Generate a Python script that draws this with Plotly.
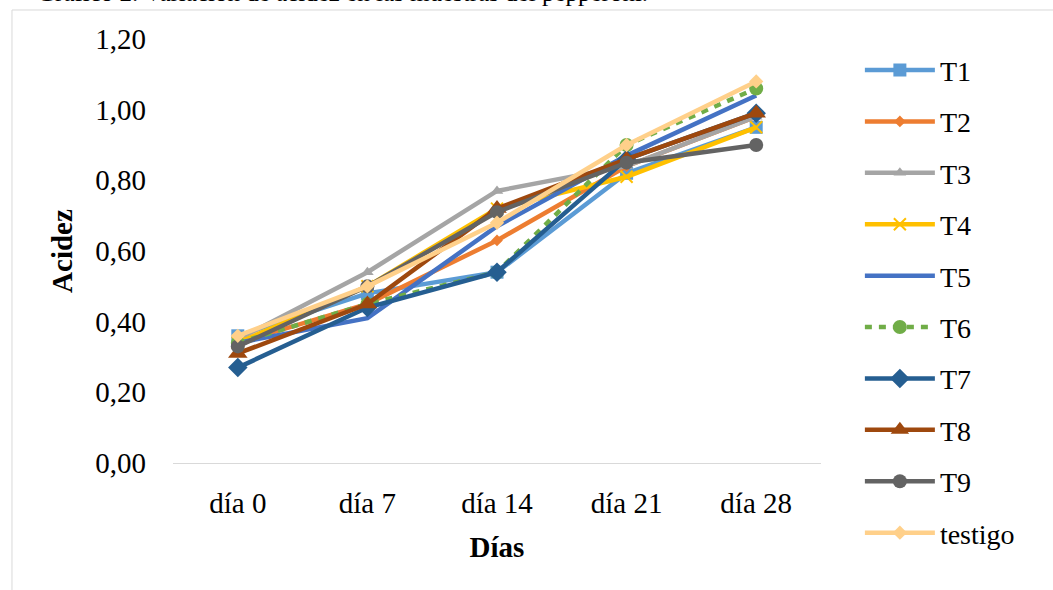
import plotly.graph_objects as go

dias = ["día 0", "día 7", "día 14", "día 21", "día 28"]
series_names = ["T1", "T2", "T3", "T4", "T5", "T6", "T7", "T8", "T9", "testigo"]
T1 = [0.36, 0.48, 0.54, 0.82, 0.95]
T2 = [0.34, 0.45, 0.63, 0.84, 0.98]
T3 = [0.35, 0.54, 0.77, 0.84, 0.98]
T4 = [0.34, 0.50, 0.72, 0.81, 0.95]
T5 = [0.34, 0.41, 0.67, 0.87, 1.04]
T6 = [0.34, 0.45, 0.54, 0.90, 1.06]
T7 = [0.27, 0.44, 0.54, 0.86, 0.99]
T8 = [0.31, 0.45, 0.72, 0.86, 0.99]
T9 = [0.33, 0.50, 0.71, 0.85, 0.90]
testigo = [0.36, 0.50, 0.68, 0.90, 1.08]
values = [T1, T2, T3, T4, T5, T6, T7, T8, T9, testigo]

colors = ["#5B9BD5", "#ED7D31", "#A5A5A5", "#FFC000", "#4472C4",
          "#70AD47", "#255E91", "#9E480E", "#636363", "#FFD08A"]
symbols = ["square", "diamond", "triangle-up", "x-thin", None,
           "circle", "diamond", "triangle-up", "circle", "diamond"]
msizes = [13, 9, 11, 12, 0, 14, 15, 17, 14, 11]

FONT = "Liberation Serif"
FS = 29

fig = go.Figure()
for name, vals, col, sym, ms in zip(series_names, values, colors, symbols, msizes):
    line = dict(color=col, width=4.5)
    if name == "T6":
        line["dash"] = "7px,7px"
    if sym is None:
        fig.add_trace(go.Scatter(x=dias, y=vals, name=name, mode="lines", line=line,
                                 legendgroup=name))
    else:
        marker = dict(symbol=sym, size=ms, color=col)
        if sym == "x-thin":
            marker["line"] = dict(color=col, width=2)
        fig.add_trace(go.Scatter(x=dias, y=vals, name=name, mode="lines+markers",
                                 line=line, marker=marker, legendgroup=name))

fig.update_layout(
    width=1053, height=590,
    margin=dict(l=173, r=232, t=39, b=127),
    paper_bgcolor="white", plot_bgcolor="white",
    separators=",.",
    font=dict(family=FONT, size=FS, color="black"),
    showlegend=True,
    legend=dict(x=1.06, y=0.985, xanchor="left", yanchor="top",
                font=dict(family=FONT, size=28, color="black"),
                tracegroupgap=12, itemwidth=70, maxheight=590,
                bgcolor="rgba(0,0,0,0)"),
    xaxis=dict(type="category", range=[-0.5, 4.5], showgrid=False, showline=True,
               linecolor="#D9D9D9", linewidth=1, ticks="", ticklabelstandoff=14,
               title=dict(text="<b>Días</b>", standoff=18,
                          font=dict(family=FONT, size=FS, color="black"))),
    yaxis=dict(range=[0, 1.2], dtick=0.2, tickformat=".2f", showgrid=False,
               showline=False, zeroline=False, ticks="", ticklabelstandoff=26,
               title=dict(text="<b>Acidez</b>", standoff=14,
                          font=dict(family=FONT, size=FS, color="black"))),
    shapes=[
        dict(type="line", xref="paper", yref="paper", x0=-0.2485, x1=1.5,
             y0=1.0684, y1=1.0684, line=dict(color="#D9D9D9", width=1)),
        dict(type="line", xref="paper", yref="paper", x0=-0.2485, x1=-0.2485,
             y0=1.0684, y1=-0.5, line=dict(color="#D9D9D9", width=1)),
    ],
    annotations=[
        dict(text="Gráfico 2. Variación de acidez en las muestras del pepperoni.",
             xref="paper", yref="paper", x=-0.213, y=1.110, xanchor="left",
             yanchor="middle", showarrow=False,
             font=dict(family=FONT, size=25, color="black")),
    ],
)

fig.write_html("out.html")
